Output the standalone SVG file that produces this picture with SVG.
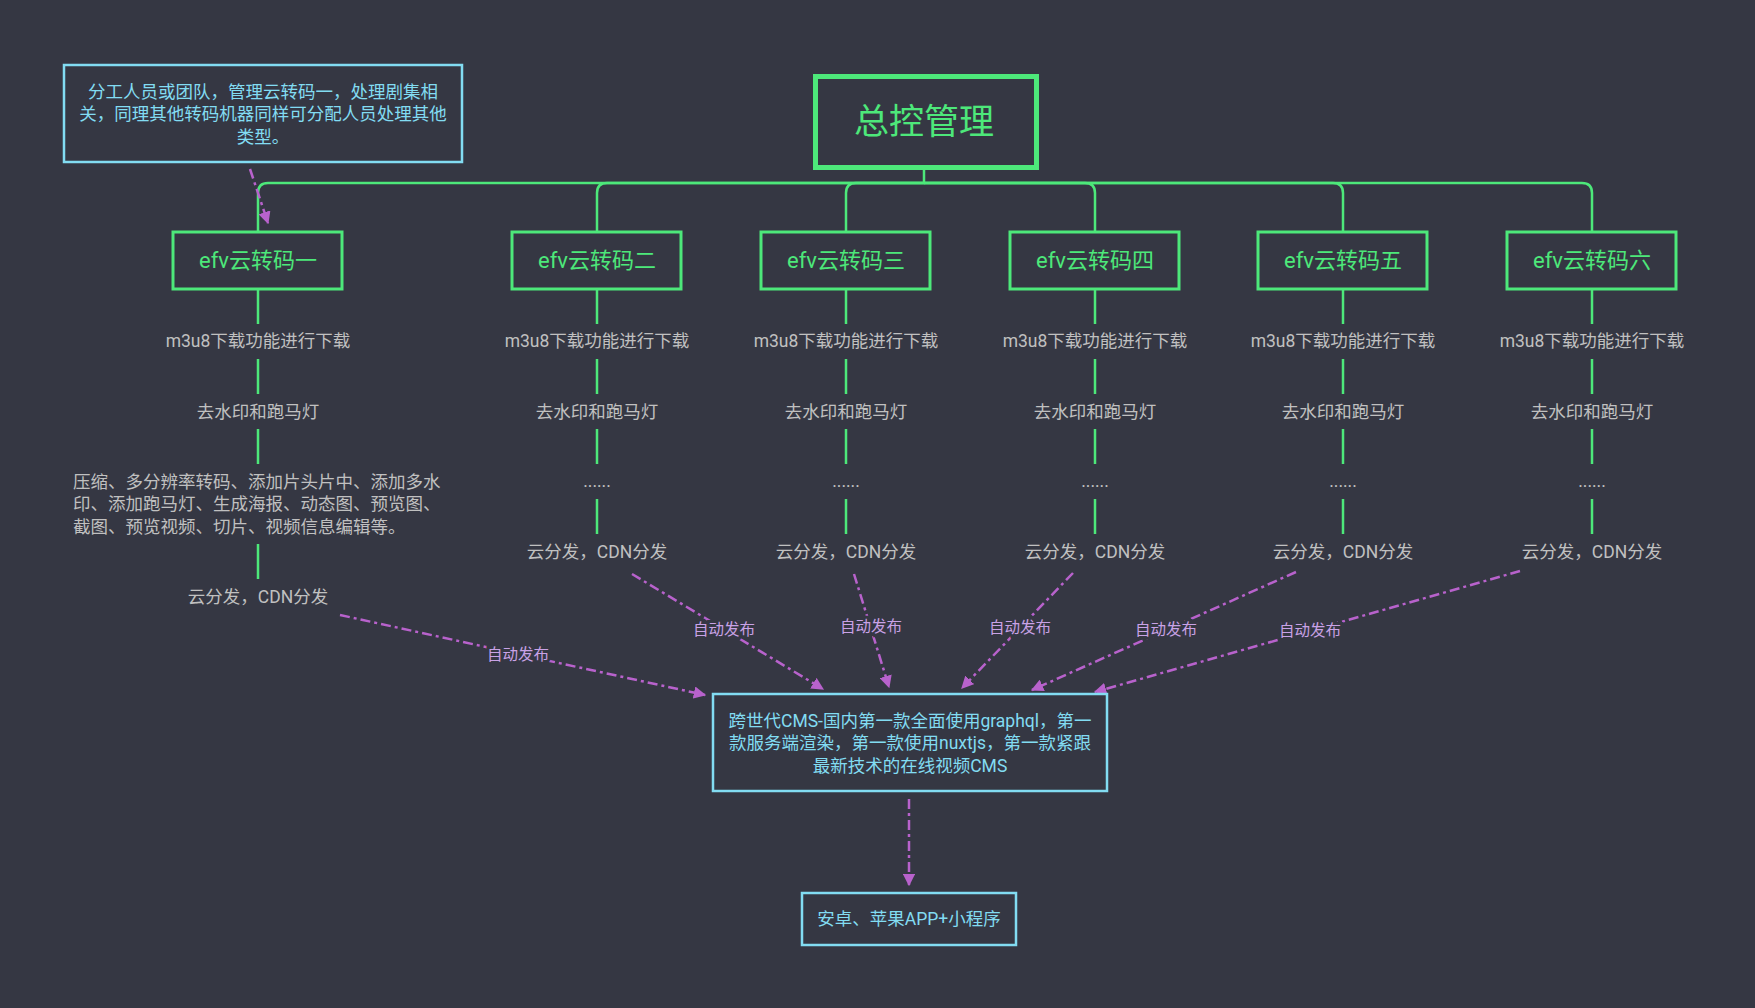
<svg xmlns="http://www.w3.org/2000/svg" width="1755" height="1008" viewBox="0 0 1755 1008">
<defs>
<style>
text{font-family:Roboto,"Noto Sans CJK SC",sans-serif}
.bg{fill:#353743}
.g{fill:none;stroke:#4de87a;stroke-width:2.5}
.gb{fill:none;stroke:#4de87a;stroke-width:3}
.gt{fill:#4de87a;font-size:22px;text-anchor:middle}
.t{fill:#c0c0c0;font-size:17.5px;text-anchor:middle}
.tl{fill:#c0c0c0;font-size:17.5px}
.cb{fill:none;stroke:#82dcf2;stroke-width:2.5}
.ct{fill:#82dcf2;font-size:17.5px;text-anchor:middle}
.p{fill:none;stroke:#b862cc;stroke-width:2.5;stroke-dasharray:10 4 3 4;marker-end:url(#ah)}
.pl{fill:#c9a2e6;font-size:15.5px;text-anchor:middle;paint-order:stroke;stroke:#353743;stroke-width:6px}
</style>
<marker id="ah" viewBox="0 0 10 10" refX="9" refY="5" markerWidth="5" markerHeight="5" orient="auto" markerUnits="strokeWidth">
<path d="M0,0 L10,5 L0,10 Z" fill="#b862cc"/>
</marker>
</defs>
<rect class="bg" x="0" y="0" width="1755" height="1008"/>

<g id="tree-connectors">
<path class="g" d="M924,169 V183 H268 Q258,183 258,193 V231"/>
<path class="g" d="M924,183 H607 Q597,183 597,193 V231"/>
<path class="g" d="M924,183 H856 Q846,183 846,193 V231"/>
<path class="g" d="M924,183 H1085 Q1095,183 1095,193 V231"/>
<path class="g" d="M924,183 H1333 Q1343,183 1343,193 V231"/>
<path class="g" d="M924,183 H1582 Q1592,183 1592,193 V231"/>
<g id="steps">
<path class="g" d="M258,290 V324 M258,359 V394 M258,429 V464 M258,544 V579"/>
<path class="g" d="M597,290 V324 M597,359 V394 M597,429 V464 M597,499 V534"/>
<path class="g" d="M846,290 V324 M846,359 V394 M846,429 V464 M846,499 V534"/>
<path class="g" d="M1095,290 V324 M1095,359 V394 M1095,429 V464 M1095,499 V534"/>
<path class="g" d="M1343,290 V324 M1343,359 V394 M1343,429 V464 M1343,499 V534"/>
<path class="g" d="M1592,290 V324 M1592,359 V394 M1592,429 V464 M1592,499 V534"/>
</g>
</g>

<g id="flow-connectors">
<path class="p" d="M250,169 L268,223"/>
<path class="p" d="M340,615 L705,695"/>
<path class="p" d="M632,574 L823,689"/>
<path class="p" d="M854,574 L889,687"/>
<path class="p" d="M1073,573 L962,688"/>
<path class="p" d="M1296,572 L1032,690"/>
<path class="p" d="M1520,571 L1095,692"/>
<path class="p" d="M909,799 L909,885"/>
<text class="pl" x="518" y="660">自动发布</text>
<text class="pl" x="724" y="635">自动发布</text>
<text class="pl" x="871" y="632">自动发布</text>
<text class="pl" x="1020" y="633">自动发布</text>
<text class="pl" x="1166" y="635">自动发布</text>
<text class="pl" x="1310" y="636">自动发布</text>
</g>

<g id="root">
<rect x="815.5" y="76.5" width="221" height="91" fill="none" stroke="#4de87a" stroke-width="5"/>
<text x="924" y="134" fill="#4de87a" font-size="35" text-anchor="middle">总控管理</text>
</g>

<g id="note">
<rect class="cb" x="64" y="65" width="398" height="97"/>
<text class="ct" x="263" y="98">分工人员或团队，管理云转码一，处理剧集相</text>
<text class="ct" x="263" y="120">关，同理其他转码机器同样可分配人员处理其他</text>
<text class="ct" x="263" y="143">类型。</text>
</g>

<g id="efv1">
<rect class="gb" x="173" y="232" width="169" height="57"/>
<text class="gt" x="258" y="268">efv云转码一</text>
<text class="t" x="258" y="347">m3u8下载功能进行下载</text>
<text class="t" x="258" y="418">去水印和跑马灯</text>
<text class="tl" x="73" y="488">压缩、多分辨率转码、添加片头片中、添加多水</text>
<text class="tl" x="73" y="510">印、添加跑马灯、生成海报、动态图、预览图、</text>
<text class="tl" x="73" y="533">截图、预览视频、切片、视频信息编辑等。</text>
<text class="t" x="258" y="603">云分发，CDN分发</text>
</g>

<g id="efv2">
<rect class="gb" x="512" y="232" width="169" height="57"/>
<text class="gt" x="597" y="268">efv云转码二</text>
<text class="t" x="597" y="347">m3u8下载功能进行下载</text>
<text class="t" x="597" y="418">去水印和跑马灯</text>
<text class="t" x="597" y="487">......</text>
<text class="t" x="597" y="558">云分发，CDN分发</text>
</g>

<g id="efv3">
<rect class="gb" x="761" y="232" width="169" height="57"/>
<text class="gt" x="846" y="268">efv云转码三</text>
<text class="t" x="846" y="347">m3u8下载功能进行下载</text>
<text class="t" x="846" y="418">去水印和跑马灯</text>
<text class="t" x="846" y="487">......</text>
<text class="t" x="846" y="558">云分发，CDN分发</text>
</g>

<g id="efv4">
<rect class="gb" x="1010" y="232" width="169" height="57"/>
<text class="gt" x="1095" y="268">efv云转码四</text>
<text class="t" x="1095" y="347">m3u8下载功能进行下载</text>
<text class="t" x="1095" y="418">去水印和跑马灯</text>
<text class="t" x="1095" y="487">......</text>
<text class="t" x="1095" y="558">云分发，CDN分发</text>
</g>

<g id="efv5">
<rect class="gb" x="1258" y="232" width="169" height="57"/>
<text class="gt" x="1343" y="268">efv云转码五</text>
<text class="t" x="1343" y="347">m3u8下载功能进行下载</text>
<text class="t" x="1343" y="418">去水印和跑马灯</text>
<text class="t" x="1343" y="487">......</text>
<text class="t" x="1343" y="558">云分发，CDN分发</text>
</g>

<g id="efv6">
<rect class="gb" x="1507" y="232" width="169" height="57"/>
<text class="gt" x="1592" y="268">efv云转码六</text>
<text class="t" x="1592" y="347">m3u8下载功能进行下载</text>
<text class="t" x="1592" y="418">去水印和跑马灯</text>
<text class="t" x="1592" y="487">......</text>
<text class="t" x="1592" y="558">云分发，CDN分发</text>
</g>

<g id="cms">
<rect class="cb" x="713" y="694" width="394" height="97"/>
<text class="ct" x="910" y="727">跨世代CMS-国内第一款全面使用graphql，第一</text>
<text class="ct" x="910" y="749">款服务端渲染，第一款使用nuxtjs，第一款紧跟</text>
<text class="ct" x="910" y="772">最新技术的在线视频CMS</text>
</g>

<g id="app">
<rect class="cb" x="802" y="893" width="214" height="52"/>
<text class="ct" x="909" y="925">安卓、苹果APP+小程序</text>
</g>
</svg>
